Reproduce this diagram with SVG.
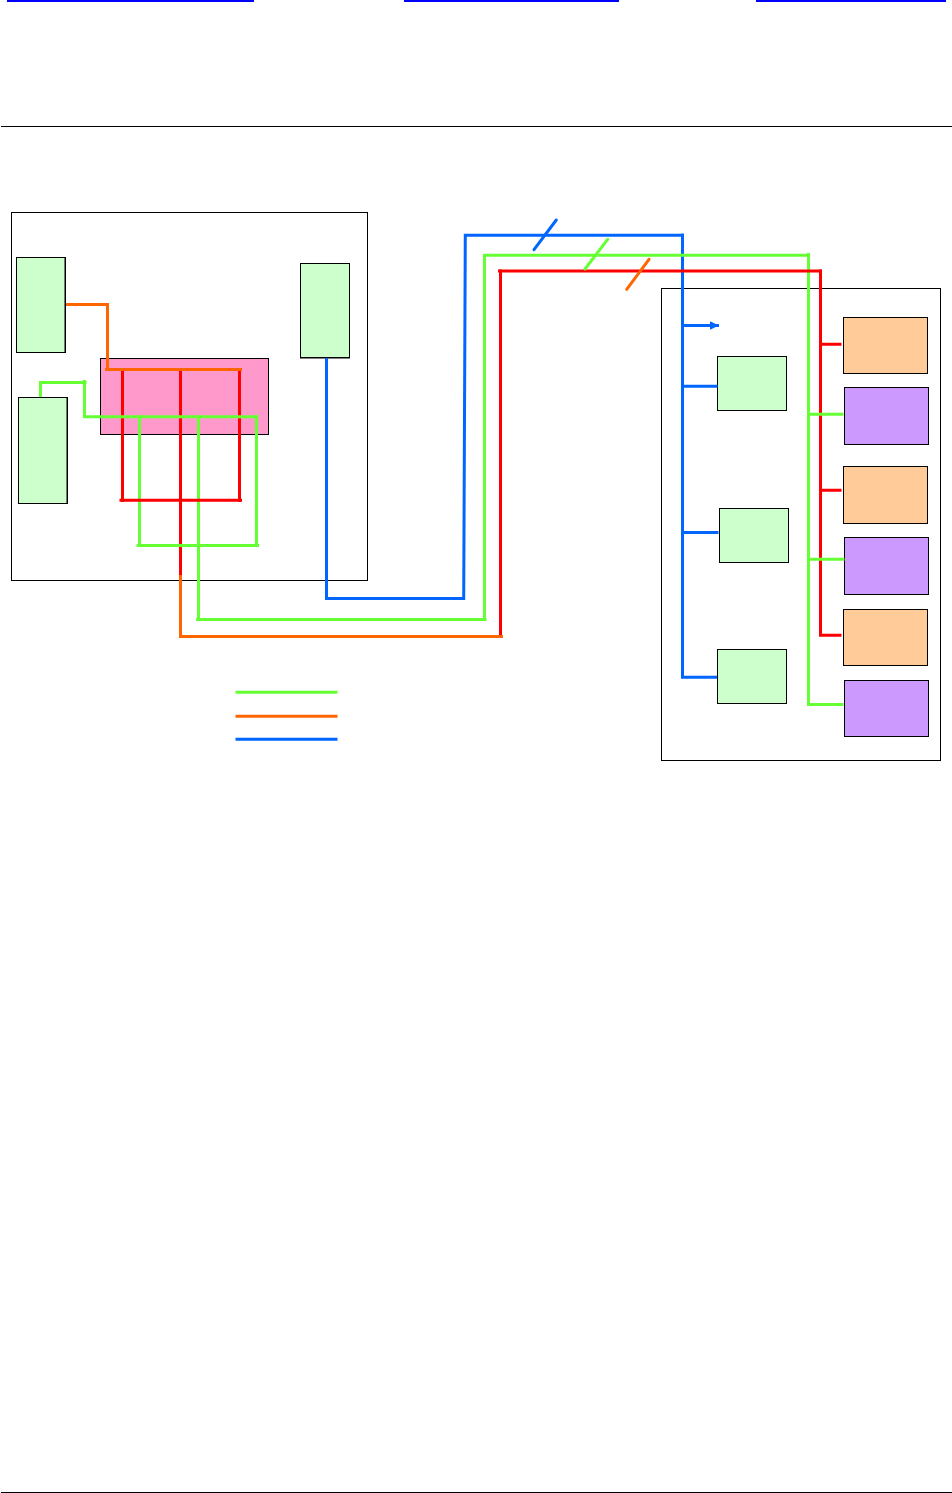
<svg xmlns="http://www.w3.org/2000/svg" width="952" height="1493" viewBox="0 0 952 1493">
<style>
.box{stroke:#000;stroke-width:1}
.w{fill:#fff}.lg{fill:#ccffcc}.pk{fill:#ff99cc}.or{fill:#ffcc99}.pu{fill:#cc99ff}
.c{fill:none;stroke-width:3;stroke-linecap:butt}
.g{stroke:#66ff33}.o{stroke:#ff6600}.r{stroke:#ff0000}.b{stroke:#0066ff}
.s{stroke-linecap:round}
</style>
<defs>
<marker id="ah" markerUnits="userSpaceOnUse" markerWidth="10" markerHeight="10" refX="9.5" refY="5" orient="auto"><path d="M0 0.5L9.5 5L0 9.5z" fill="#0066ff"/></marker>
</defs>
<rect x="0" y="0" width="952" height="1493" fill="#fff"/>
<g id="page">
<rect x="7" y="0" width="247" height="2" fill="#0000ff"/>
<rect x="404" y="0" width="215" height="2" fill="#0000ff"/>
<rect x="756" y="0" width="190" height="2" fill="#0000ff"/>
<rect x="1" y="126" width="951" height="1" fill="#000"/>
<rect x="1" y="1492" width="951" height="1" fill="#000"/>
</g>
<g id="source-box"><rect class="box w" x="11.5" y="212.5" width="356" height="368"/></g>
<g id="dest-box"><rect class="box w" x="661.5" y="288.5" width="279" height="472"/></g>
<g id="n1"><rect class="box lg" x="16.5" y="257.5" width="49" height="95"/><rect x="64.5" y="257" width="1.5" height="96" fill="#000"/></g>
<g id="n2"><rect class="box lg" x="18.5" y="397.5" width="49" height="106"/><rect x="66.5" y="397" width="1.5" height="107" fill="#000"/></g>
<g id="n3"><rect class="box lg" x="300.5" y="263.5" width="49" height="94"/><rect x="300" y="357" width="50" height="1.5" fill="#000"/></g>
<g id="n4"><rect class="box pk" x="100.5" y="358.5" width="168" height="76"/></g>
<g id="n5"><rect class="box lg" x="717.5" y="356.5" width="69" height="54"/></g>
<g id="n6"><rect class="box lg" x="719.5" y="508.5" width="69" height="54"/></g>
<g id="n7"><rect class="box lg" x="717.5" y="649.5" width="69" height="54"/></g>
<g id="n8"><rect class="box or" x="843.5" y="317.5" width="84" height="56"/></g>
<g id="n9"><rect class="box pu" x="844.5" y="387.5" width="84" height="57"/></g>
<g id="n10"><rect class="box or" x="843.5" y="466.5" width="84" height="57"/></g>
<g id="n11"><rect class="box pu" x="844.5" y="537.5" width="84" height="57"/></g>
<g id="n12"><rect class="box or" x="843.5" y="609.5" width="84" height="56"/></g>
<g id="n13"><rect class="box pu" x="844.5" y="680.5" width="84" height="56"/></g>
<g id="connectors">
<path class="c b" d="M326.5 358V600M325 598.5H465.2M463.7 600L465.3 233.8M463.8 235.3H684M682.5 233.5V678.8M681 677.3H717M682 386.3H717.5M682 532.5H718.5"/>
<path class="c b" d="M683 325.5H719" marker-end="url(#ah)"/>
<path class="c r" d="M122.5 369.5V502M239.5 369.5V502M180.5 369.5V575"/>
<path class="c r" d="M500.5 638V269.5M820.5 269.5V636.8M819 635.3H841.5M820 344.3H841.5M820 490.3H841.5"/>
<path class="c g" d="M40.5 397V381M39 382.5H86.5M84.5 380V418.2M83.5 416.7H258.5M139.5 415V547M198.5 415V621M256.5 415V547M136.5 545.5H259M196 619.5H486.5M484.5 621V253.8M483 255.3H810M808.5 253V706M807 704.5H843.5M808 414.3H843.5M808 559.3H844.5"/>
<path class="c r" d="M119.5 500.3H242M498 271H822"/>
<path class="c o" d="M180.5 575V638M179 636.5H503"/>
<path class="c o" d="M66 304.5H109M107.5 303V371M105 369.5H242"/>
<path class="c b s" d="M534 249.7L556.3 220"/>
<path class="c g s" d="M585 269L607.7 239.3"/>
<path class="c o s" d="M626.7 289.3L649 259.3"/>
<path class="c g" d="M235.5 692.3H337.5"/>
<path class="c o" d="M235.5 716.3H337.5"/>
<path class="c b" d="M235.5 739.3H337.5"/>
</g>
</svg>
